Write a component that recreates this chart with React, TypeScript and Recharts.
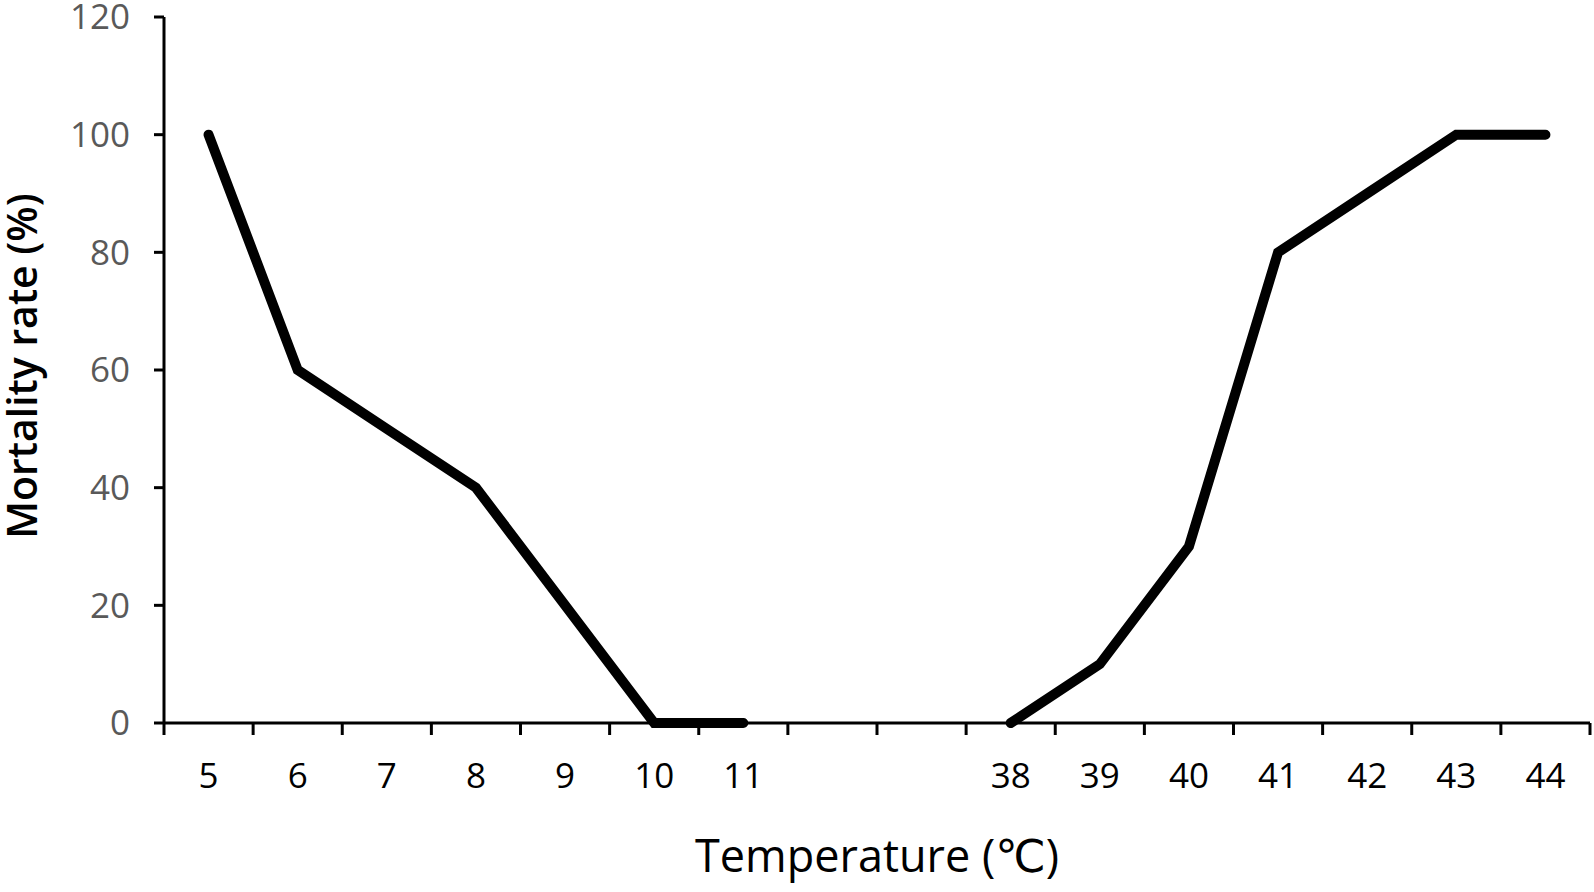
import { LineChart, Line, XAxis, YAxis } from 'recharts';

const temperatures = ['5', '6', '7', '8', '9', '10', '11', '', '', '38', '39', '40', '41', '42', '43', '44'];
const mortality = [100, 60, 50, 40, 20, 0, 0, null, null, 0, 10, 30, 80, 90, 100, 100];
const yTicks = [0, 20, 40, 60, 80, 100, 120];

// one slot per category; ticks at slot edges, labels at slot centres
const data = temperatures.map((t, i) => ({ pos: i + 0.5, label: t, value: mortality[i] }));
const xTicks = Array.from({ length: temperatures.length * 2 + 1 }, (_, i) => i / 2);

const FONT = '"Open Sans", "DejaVu Sans", sans-serif';

function XTick(props: any) {
  const { x, y, payload } = props;
  const v = payload.value as number;
  if (Number.isInteger(v)) {
    return <line x1={x} x2={x} y1={y} y2={y + 12} stroke="#000" strokeWidth={3} />;
  }
  return (
    <text x={x} y={y + 65} textAnchor="middle" fontSize={35} fontFamily={FONT} fill="#000">
      {temperatures[Math.floor(v)]}
    </text>
  );
}

export default function App() {
  return (
    <div style={{ position: 'absolute', left: 0, top: 0, background: '#fff' }}>
      <LineChart width={1594} height={892} data={data} margin={{ top: 17, right: 4, bottom: 0, left: 0 }}>
        <XAxis
          dataKey="pos"
          type="number"
          domain={[0, temperatures.length]}
          ticks={xTicks}
          interval={0}
          tickLine={false}
          tickSize={0}
          tickMargin={0}
          tick={XTick}
          height={169}
          axisLine={{ stroke: '#000', strokeWidth: 3 }}
          label={{
            content: (p: any) => (
              <text
                x={p.viewBox.x + p.viewBox.width / 2}
                y={p.viewBox.y + 149}
                textAnchor="middle"
                fontSize={45}
                fontFamily={FONT}
                fill="#000"
              >
                Temperature (℃)
              </text>
            ),
          }}
        />
        <YAxis
          domain={[0, 120]}
          ticks={yTicks}
          interval={0}
          width={164}
          tickSize={10}
          tickMargin={24}
          tickLine={{ stroke: '#000', strokeWidth: 3 }}
          axisLine={{ stroke: '#000', strokeWidth: 3 }}
          tick={{ fontSize: 35, fontFamily: FONT, fill: '#595959' }}
          label={{
            content: (p: any) => {
              const cx = 37;
              const cy = p.viewBox.y + p.viewBox.height / 2 - 4;
              return (
                <text
                  x={cx}
                  y={cy}
                  transform={`rotate(-90, ${cx}, ${cy})`}
                  textAnchor="middle"
                  fontSize={41}
                  fontWeight={600}
                  fontFamily={FONT}
                  fill="#000"
                >
                  Mortality rate (%)
                </text>
              );
            },
          }}
        />
        <Line
          type="linear"
          dataKey="value"
          stroke="#000"
          strokeWidth={10}
          strokeLinecap="round"
          dot={false}
          activeDot={false}
          connectNulls={false}
          isAnimationActive={false}
        />
      </LineChart>
    </div>
  );
}
